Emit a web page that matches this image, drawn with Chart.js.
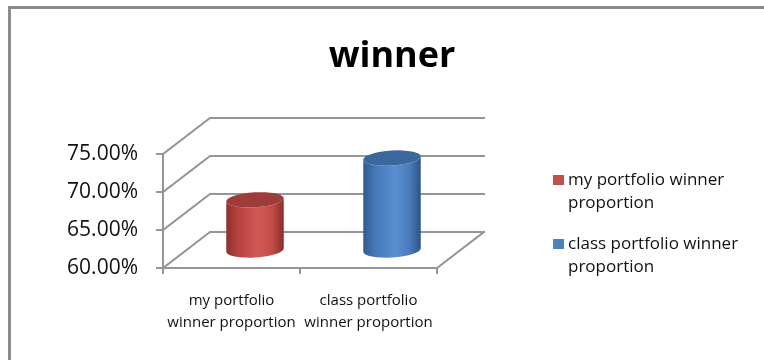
<!DOCTYPE html>
<html>
<head>
<meta charset="utf-8">
<script src="https://cdn.jsdelivr.net/npm/chart.js@4.4.1/dist/chart.umd.min.js"></script>
<style>
  html, body { margin: 0; padding: 0; background: #fff; overflow: hidden; }
  #wrap { position: relative; width: 764px; height: 360px; }
  /* outer frame, only top and left edges are inside the window */
  #frame {
    position: absolute; left: 8px; top: 6px; width: 800px; height: 400px;
    border: 3px solid #8c8c8c; box-sizing: border-box;
  }
  #chart { position: absolute; left: 0; top: 0; }
</style>
</head>
<body>
<div id="wrap">
  <div id="frame"></div>
  <canvas id="chart" width="764" height="360"></canvas>
</div>
<script>
// DATA
const categories = ["my portfolio winner proportion", "class portfolio winner proportion"];
const winnerShare = [0.666, 0.721];
const yTicks = [0.6, 0.65, 0.7, 0.75];
const chartTitle = "winner";

// COLOURS (body gradient stops + top cap)
const bodyStops = [
  ["#8e2f2c", "#b4423f", "#d35956", "#c24c49", "#8a2c29"],
  ["#2f5a90", "#4677b5", "#5a8fd2", "#4a7cbc", "#2d5585"],
];
const capColors = ["#9e3c39", "#3b679d"];
const legendColors = ["#c0504d", "#4f81bd"];
const gridColor = "#959595";

const FONT = "'Open Sans', 'DejaVu Sans', sans-serif";

// depth of the 3d box (back wall offset from the front plane)
const depthX = 47;
const depthY = -36;

// word wrap helper used by axis labels and the legend
const measureCtx = document.createElement("canvas").getContext("2d");
function wrapText(text, font, maxWidth) {
  measureCtx.font = font;
  const words = text.split(" ");
  const lines = [];
  let line = "";
  words.forEach((w) => {
    const test = line ? line + " " + w : w;
    if (line && measureCtx.measureText(test).width > maxWidth) {
      lines.push(line);
      line = w;
    } else {
      line = test;
    }
  });
  if (line) lines.push(line);
  return lines;
}

// BOX + CYLINDERS
const box3d = {
  id: "box3d",
  beforeDatasetsDraw(chart) {
    const { ctx, chartArea, scales } = chart;
    const y = scales.y;
    const left = chartArea.left;
    const right = chartArea.right;
    const bottom = chartArea.bottom;

    ctx.save();
    ctx.strokeStyle = gridColor;
    ctx.lineWidth = 2;
    ctx.lineCap = "square";

    // back wall lines and side wall diagonals
    yTicks.forEach((v) => {
      const py = y.getPixelForValue(v);
      ctx.beginPath();
      ctx.moveTo(left, py);
      ctx.lineTo(left + depthX, py + depthY);
      ctx.lineTo(right + depthX, py + depthY);
      ctx.stroke();
      // tick mark on the front axis
      ctx.beginPath();
      ctx.moveTo(left - 6, py);
      ctx.lineTo(left, py);
      ctx.stroke();
    });

    // front vertical axis
    ctx.beginPath();
    ctx.moveTo(left, y.getPixelForValue(yTicks[yTicks.length - 1]));
    ctx.lineTo(left, bottom);
    ctx.stroke();

    // floor front edge and right edge
    ctx.beginPath();
    ctx.moveTo(left, bottom);
    ctx.lineTo(right, bottom);
    ctx.lineTo(right + depthX, bottom + depthY);
    ctx.stroke();

    // category tick marks on the floor edge
    const n = categories.length;
    for (let i = 0; i <= n; i++) {
      const px = left + ((right - left) * i) / n;
      ctx.beginPath();
      ctx.moveTo(px, bottom);
      ctx.lineTo(px, bottom + 5);
      ctx.stroke();
    }
    ctx.restore();

    // cylinders sit halfway into the box
    const meta = chart.getDatasetMeta(0);
    meta.data.forEach((bar, i) => {
      const p = bar.getProps(["x", "y", "base", "width"], true);
      const cx = p.x + depthX / 2;
      const top = p.y + depthY / 2;
      const base = p.base + depthY / 2;
      const rx = p.width / 2;
      const ry = 7.5;
      const tilt = -0.06;

      const grad = ctx.createLinearGradient(cx - rx, 0, cx + rx, 0);
      const stops = bodyStops[i];
      [0, 0.2, 0.55, 0.8, 1].forEach((s, k) => grad.addColorStop(s, stops[k]));

      ctx.save();
      ctx.fillStyle = grad;
      ctx.beginPath();
      ctx.ellipse(cx, top, rx, ry, tilt, Math.PI, 0, true);
      ctx.lineTo(cx + rx, base);
      ctx.ellipse(cx, base, rx, ry, tilt, 0, Math.PI, false);
      ctx.closePath();
      ctx.fill();

      ctx.fillStyle = capColors[i];
      ctx.beginPath();
      ctx.ellipse(cx, top, rx, ry, tilt, 0, Math.PI * 2);
      ctx.fill();
      ctx.restore();
    });
    return false;
  },
};

// TITLE + LEGEND
const titleLegend = {
  id: "titleLegend",
  afterDraw(chart) {
    const { ctx } = chart;
    ctx.save();
    ctx.fillStyle = "#000";
    ctx.font = "bold 36px " + FONT;
    ctx.textAlign = "center";
    ctx.textBaseline = "alphabetic";
    ctx.fillText(chartTitle, 392, 67);

    const legendFont = "17px " + FONT;
    ctx.font = legendFont;
    ctx.textAlign = "left";
    ctx.textBaseline = "middle";
    let ly = 180;
    categories.forEach((label, i) => {
      ctx.fillStyle = legendColors[i];
      ctx.fillRect(553, ly - 5, 11, 10);
      ctx.fillStyle = "#111";
      const lines = wrapText(label, legendFont, 185);
      lines.forEach((line, k) => {
        ctx.fillText(line, 568, ly + k * 23);
      });
      ly += 64;
    });
    ctx.restore();
  },
};

const tickFont = "15px " + FONT;

const ctx = document.getElementById("chart");
const winnerChart = new Chart(ctx, {
  type: "bar",
  data: {
    labels: categories.map((c) => wrapText(c, tickFont, 132)),
    datasets: [
      {
        label: chartTitle,
        data: winnerShare,
        base: yTicks[0],
        backgroundColor: legendColors,
        barPercentage: 0.42,
        categoryPercentage: 1,
      },
    ],
  },
  options: {
    responsive: false,
    animation: false,
    layout: {
      padding: { left: 10, top: 154, right: 327, bottom: 22 },
    },
    scales: {
      x: {
        grid: { display: false, drawTicks: false, tickLength: 0 },
        border: { display: false },
        ticks: {
          color: "#111",
          font: { family: FONT, size: 15, lineHeight: 1.45 },
          padding: 22,
          maxRotation: 0,
          autoSkip: false,
        },
        afterFit(scale) {
          scale.height = 70;
        },
      },
      y: {
        min: 0.6,
        max: 0.75,
        grid: { display: false, drawTicks: false, tickLength: 0 },
        border: { display: false },
        ticks: {
          stepSize: 0.05,
          color: "#111",
          font: { family: FONT, size: 21 },
          padding: 25,
          callback: (v) => (v * 100).toFixed(2) + "%",
        },
        afterFit(scale) {
          scale.width = 153;
        },
      },
    },
    plugins: {
      legend: { display: false },
      title: { display: false },
      tooltip: { enabled: false },
    },
  },
  plugins: [box3d, titleLegend],
});
</script>
</body>
</html>
